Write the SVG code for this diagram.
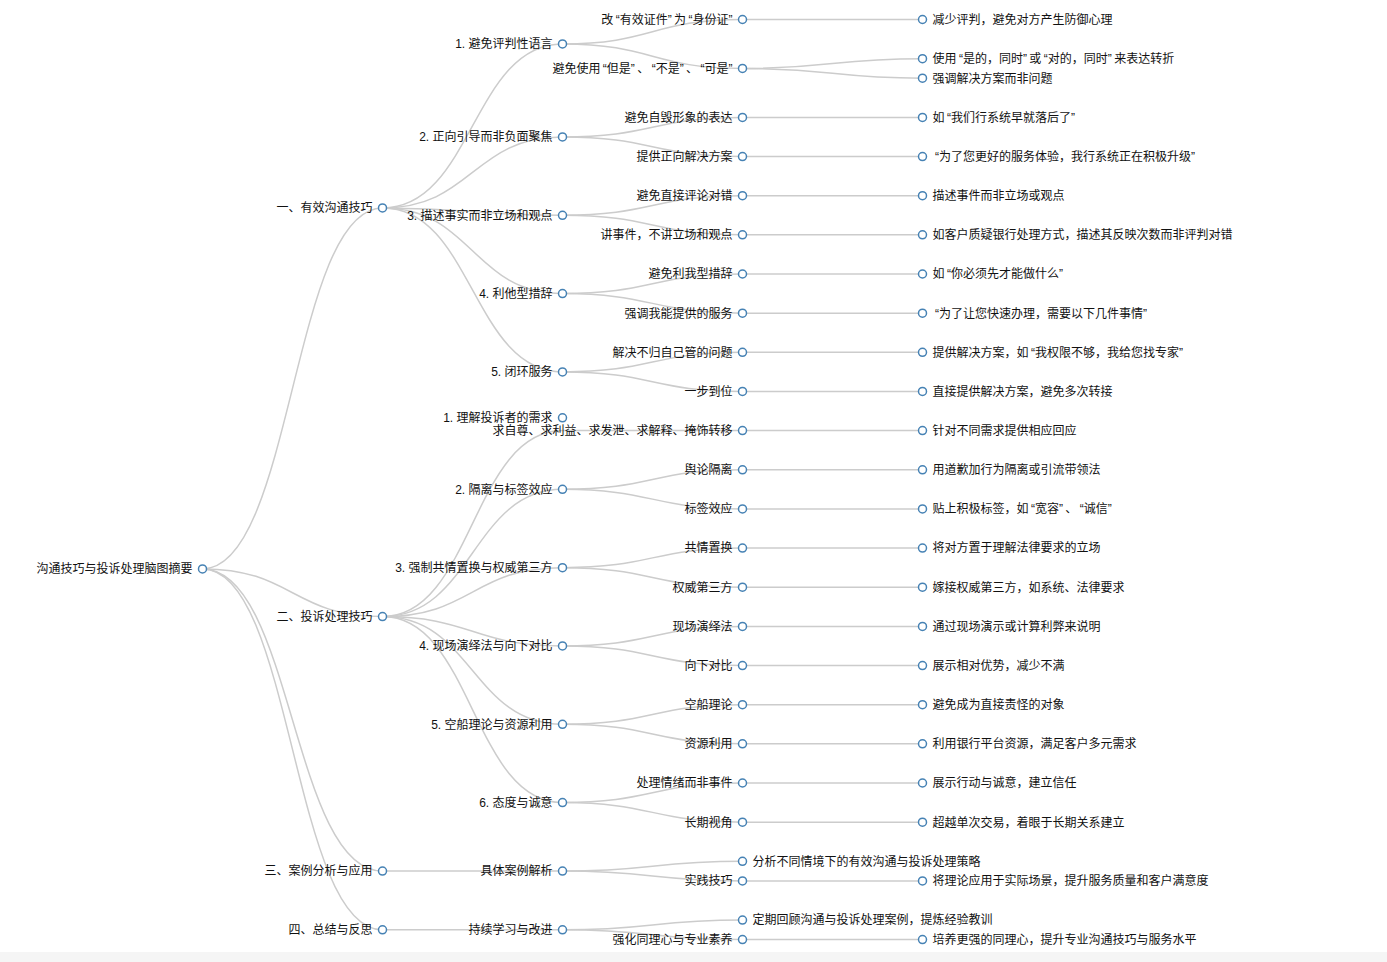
<svg xmlns="http://www.w3.org/2000/svg" width="1387" height="962" viewBox="0 0 1387 962">
<style>
.lk{fill:none;stroke:#ccc;stroke-width:1.5}
.nd circle{fill:#fff;stroke:#4682b4;stroke-width:1.5}
.nd text{font-family:"Liberation Sans","Noto Sans CJK SC",sans-serif;font-size:12px;fill:#111}
.l{text-anchor:end}
.r{text-anchor:start}
</style>
<rect x="0" y="0" width="1387" height="962" fill="#fff"/>
<rect x="0" y="952" width="1387" height="10" fill="#f5f5f5"/>
<g id="links">
<path class="lk" d="M202.5,568.88C292.5,568.88 292.5,207.93 382.5,207.93"/>
<path class="lk" d="M202.5,568.88C292.5,568.88 292.5,616.6 382.5,616.6"/>
<path class="lk" d="M202.5,568.88C292.5,568.88 292.5,871.1 382.5,871.1"/>
<path class="lk" d="M202.5,568.88C292.5,568.88 292.5,929.83 382.5,929.83"/>
<path class="lk" d="M382.5,207.93C472.5,207.93 472.5,43.97 562.5,43.97"/>
<path class="lk" d="M382.5,207.93C472.5,207.93 472.5,136.97 562.5,136.97"/>
<path class="lk" d="M382.5,207.93C472.5,207.93 472.5,215.27 562.5,215.27"/>
<path class="lk" d="M382.5,207.93C472.5,207.93 472.5,293.58 562.5,293.58"/>
<path class="lk" d="M382.5,207.93C472.5,207.93 472.5,371.89 562.5,371.89"/>
<path class="lk" d="M382.5,616.6C472.5,616.6 472.5,430.62 562.5,430.62"/>
<path class="lk" d="M382.5,616.6C472.5,616.6 472.5,489.35 562.5,489.35"/>
<path class="lk" d="M382.5,616.6C472.5,616.6 472.5,567.66 562.5,567.66"/>
<path class="lk" d="M382.5,616.6C472.5,616.6 472.5,645.97 562.5,645.97"/>
<path class="lk" d="M382.5,616.6C472.5,616.6 472.5,724.28 562.5,724.28"/>
<path class="lk" d="M382.5,616.6C472.5,616.6 472.5,802.58 562.5,802.58"/>
<path class="lk" d="M382.5,871.1C472.5,871.1 472.5,871.1 562.5,871.1"/>
<path class="lk" d="M382.5,929.83C472.5,929.83 472.5,929.83 562.5,929.83"/>
<path class="lk" d="M562.5,43.97C652.5,43.97 652.5,19.5 742.5,19.5"/>
<path class="lk" d="M562.5,43.97C652.5,43.97 652.5,68.44 742.5,68.44"/>
<path class="lk" d="M562.5,136.97C652.5,136.97 652.5,117.39 742.5,117.39"/>
<path class="lk" d="M562.5,136.97C652.5,136.97 652.5,156.54 742.5,156.54"/>
<path class="lk" d="M562.5,215.27C652.5,215.27 652.5,195.69 742.5,195.69"/>
<path class="lk" d="M562.5,215.27C652.5,215.27 652.5,234.85 742.5,234.85"/>
<path class="lk" d="M562.5,293.58C652.5,293.58 652.5,274 742.5,274"/>
<path class="lk" d="M562.5,293.58C652.5,293.58 652.5,313.16 742.5,313.16"/>
<path class="lk" d="M562.5,371.89C652.5,371.89 652.5,352.31 742.5,352.31"/>
<path class="lk" d="M562.5,371.89C652.5,371.89 652.5,391.46 742.5,391.46"/>
<path class="lk" d="M562.5,430.62C652.5,430.62 652.5,430.62 742.5,430.62"/>
<path class="lk" d="M562.5,489.35C652.5,489.35 652.5,469.77 742.5,469.77"/>
<path class="lk" d="M562.5,489.35C652.5,489.35 652.5,508.93 742.5,508.93"/>
<path class="lk" d="M562.5,567.66C652.5,567.66 652.5,548.08 742.5,548.08"/>
<path class="lk" d="M562.5,567.66C652.5,567.66 652.5,587.23 742.5,587.23"/>
<path class="lk" d="M562.5,645.97C652.5,645.97 652.5,626.39 742.5,626.39"/>
<path class="lk" d="M562.5,645.97C652.5,645.97 652.5,665.54 742.5,665.54"/>
<path class="lk" d="M562.5,724.28C652.5,724.28 652.5,704.7 742.5,704.7"/>
<path class="lk" d="M562.5,724.28C652.5,724.28 652.5,743.85 742.5,743.85"/>
<path class="lk" d="M562.5,802.58C652.5,802.58 652.5,783 742.5,783"/>
<path class="lk" d="M562.5,802.58C652.5,802.58 652.5,822.16 742.5,822.16"/>
<path class="lk" d="M562.5,871.1C652.5,871.1 652.5,861.31 742.5,861.31"/>
<path class="lk" d="M562.5,871.1C652.5,871.1 652.5,880.89 742.5,880.89"/>
<path class="lk" d="M562.5,929.83C652.5,929.83 652.5,920.04 742.5,920.04"/>
<path class="lk" d="M562.5,929.83C652.5,929.83 652.5,939.62 742.5,939.62"/>
<path class="lk" d="M742.5,19.5H922.5"/>
<path class="lk" d="M742.5,68.44C832.5,68.44 832.5,58.65 922.5,58.65"/>
<path class="lk" d="M742.5,68.44C832.5,68.44 832.5,78.23 922.5,78.23"/>
<path class="lk" d="M742.5,117.39H922.5"/>
<path class="lk" d="M742.5,156.54H922.5"/>
<path class="lk" d="M742.5,195.69H922.5"/>
<path class="lk" d="M742.5,234.85H922.5"/>
<path class="lk" d="M742.5,274H922.5"/>
<path class="lk" d="M742.5,313.16H922.5"/>
<path class="lk" d="M742.5,352.31H922.5"/>
<path class="lk" d="M742.5,391.46H922.5"/>
<path class="lk" d="M742.5,430.62H922.5"/>
<path class="lk" d="M742.5,469.77H922.5"/>
<path class="lk" d="M742.5,508.93H922.5"/>
<path class="lk" d="M742.5,548.08H922.5"/>
<path class="lk" d="M742.5,587.23H922.5"/>
<path class="lk" d="M742.5,626.39H922.5"/>
<path class="lk" d="M742.5,665.54H922.5"/>
<path class="lk" d="M742.5,704.7H922.5"/>
<path class="lk" d="M742.5,743.85H922.5"/>
<path class="lk" d="M742.5,783H922.5"/>
<path class="lk" d="M742.5,822.16H922.5"/>
<path class="lk" d="M742.5,880.89H922.5"/>
<path class="lk" d="M742.5,939.62H922.5"/>
</g>
<g id="n-root" class="nd"><circle cx="202.5" cy="568.88" r="4"/><text class="l" x="192.5" y="573.2">沟通技巧与投诉处理脑图摘要</text></g>
<g id="n-1" class="nd"><circle cx="382.5" cy="207.93" r="4"/><text class="l" x="372.5" y="212.2">一、有效沟通技巧</text></g>
<g id="n-2" class="nd"><circle cx="382.5" cy="616.6" r="4"/><text class="l" x="372.5" y="620.9">二、投诉处理技巧</text></g>
<g id="n-3" class="nd"><circle cx="382.5" cy="871.1" r="4"/><text class="l" x="372.5" y="875.4">三、案例分析与应用</text></g>
<g id="n-4" class="nd"><circle cx="382.5" cy="929.83" r="4"/><text class="l" x="372.5" y="934.1">四、总结与反思</text></g>
<g id="n-1-1" class="nd"><circle cx="562.5" cy="43.97" r="4"/><text class="l" x="552.5" y="48.3">1. 避免评判性语言</text></g>
<g id="n-1-2" class="nd"><circle cx="562.5" cy="136.97" r="4"/><text class="l" x="552.5" y="141.3">2. 正向引导而非负面聚焦</text></g>
<g id="n-1-3" class="nd"><circle cx="562.5" cy="215.27" r="4"/><text class="l" x="552.5" y="219.6">3. 描述事实而非立场和观点</text></g>
<g id="n-1-4" class="nd"><circle cx="562.5" cy="293.58" r="4"/><text class="l" x="552.5" y="297.9">4. 利他型措辞</text></g>
<g id="n-1-5" class="nd"><circle cx="562.5" cy="371.89" r="4"/><text class="l" x="552.5" y="376.2">5. 闭环服务</text></g>
<g id="n-2-1" class="nd"><circle cx="562.5" cy="417.8" r="4"/><text class="l" x="552.5" y="422.1">1. 理解投诉者的需求</text></g>
<g id="n-2-2" class="nd"><circle cx="562.5" cy="489.35" r="4"/><text class="l" x="552.5" y="493.7">2. 隔离与标签效应</text></g>
<g id="n-2-3" class="nd"><circle cx="562.5" cy="567.66" r="4"/><text class="l" x="552.5" y="572">3. 强制共情置换与权威第三方</text></g>
<g id="n-2-4" class="nd"><circle cx="562.5" cy="645.97" r="4"/><text class="l" x="552.5" y="650.3">4. 现场演绎法与向下对比</text></g>
<g id="n-2-5" class="nd"><circle cx="562.5" cy="724.28" r="4"/><text class="l" x="552.5" y="728.6">5. 空船理论与资源利用</text></g>
<g id="n-2-6" class="nd"><circle cx="562.5" cy="802.58" r="4"/><text class="l" x="552.5" y="806.9">6. 态度与诚意</text></g>
<g id="n-3-1" class="nd"><circle cx="562.5" cy="871.1" r="4"/><text class="l" x="552.5" y="875.4">具体案例解析</text></g>
<g id="n-4-1" class="nd"><circle cx="562.5" cy="929.83" r="4"/><text class="l" x="552.5" y="934.1">持续学习与改进</text></g>
<g id="n-1-1-1" class="nd"><circle cx="742.5" cy="19.5" r="4"/><text class="l" x="732.5" y="23.8">改<tspan dx="2.4">“</tspan>有效证件”<tspan dx="2.4">为</tspan><tspan dx="2.4">“</tspan>身份证”</text></g>
<g id="n-1-1-2" class="nd"><circle cx="742.5" cy="68.44" r="4"/><text class="l" x="732.5" y="72.7">避免使用<tspan dx="2.4">“</tspan>但是”<tspan dx="2.4">、</tspan><tspan dx="2.4">“</tspan>不是”<tspan dx="2.4">、</tspan><tspan dx="2.4">“</tspan>可是”</text></g>
<g id="n-1-2-1" class="nd"><circle cx="742.5" cy="117.39" r="4"/><text class="l" x="732.5" y="121.7">避免自毁形象的表达</text></g>
<g id="n-1-2-2" class="nd"><circle cx="742.5" cy="156.54" r="4"/><text class="l" x="732.5" y="160.8">提供正向解决方案</text></g>
<g id="n-1-3-1" class="nd"><circle cx="742.5" cy="195.69" r="4"/><text class="l" x="732.5" y="200">避免直接评论对错</text></g>
<g id="n-1-3-2" class="nd"><circle cx="742.5" cy="234.85" r="4"/><text class="l" x="732.5" y="239.1">讲事件，不讲立场和观点</text></g>
<g id="n-1-4-1" class="nd"><circle cx="742.5" cy="274" r="4"/><text class="l" x="732.5" y="278.3">避免利我型措辞</text></g>
<g id="n-1-4-2" class="nd"><circle cx="742.5" cy="313.16" r="4"/><text class="l" x="732.5" y="317.5">强调我能提供的服务</text></g>
<g id="n-1-5-1" class="nd"><circle cx="742.5" cy="352.31" r="4"/><text class="l" x="732.5" y="356.6">解决不归自己管的问题</text></g>
<g id="n-1-5-2" class="nd"><circle cx="742.5" cy="391.46" r="4"/><text class="l" x="732.5" y="395.8">一步到位</text></g>
<g id="n-2-1-1" class="nd"><circle cx="742.5" cy="430.62" r="4"/><text class="l" x="732.5" y="434.9">求自尊、求利益、求发泄、求解释、掩饰转移</text></g>
<g id="n-2-2-1" class="nd"><circle cx="742.5" cy="469.77" r="4"/><text class="l" x="732.5" y="474.1">舆论隔离</text></g>
<g id="n-2-2-2" class="nd"><circle cx="742.5" cy="508.93" r="4"/><text class="l" x="732.5" y="513.2">标签效应</text></g>
<g id="n-2-3-1" class="nd"><circle cx="742.5" cy="548.08" r="4"/><text class="l" x="732.5" y="552.4">共情置换</text></g>
<g id="n-2-3-2" class="nd"><circle cx="742.5" cy="587.23" r="4"/><text class="l" x="732.5" y="591.5">权威第三方</text></g>
<g id="n-2-4-1" class="nd"><circle cx="742.5" cy="626.39" r="4"/><text class="l" x="732.5" y="630.7">现场演绎法</text></g>
<g id="n-2-4-2" class="nd"><circle cx="742.5" cy="665.54" r="4"/><text class="l" x="732.5" y="669.8">向下对比</text></g>
<g id="n-2-5-1" class="nd"><circle cx="742.5" cy="704.7" r="4"/><text class="l" x="732.5" y="709">空船理论</text></g>
<g id="n-2-5-2" class="nd"><circle cx="742.5" cy="743.85" r="4"/><text class="l" x="732.5" y="748.2">资源利用</text></g>
<g id="n-2-6-1" class="nd"><circle cx="742.5" cy="783" r="4"/><text class="l" x="732.5" y="787.3">处理情绪而非事件</text></g>
<g id="n-2-6-2" class="nd"><circle cx="742.5" cy="822.16" r="4"/><text class="l" x="732.5" y="826.5">长期视角</text></g>
<g id="n-3-1-1" class="nd"><circle cx="742.5" cy="861.31" r="4"/><text class="r" x="752.5" y="865.6">分析不同情境下的有效沟通与投诉处理策略</text></g>
<g id="n-3-1-2" class="nd"><circle cx="742.5" cy="880.89" r="4"/><text class="l" x="732.5" y="885.2">实践技巧</text></g>
<g id="n-4-1-1" class="nd"><circle cx="742.5" cy="920.04" r="4"/><text class="r" x="752.5" y="924.3">定期回顾沟通与投诉处理案例，提炼经验教训</text></g>
<g id="n-4-1-2" class="nd"><circle cx="742.5" cy="939.62" r="4"/><text class="l" x="732.5" y="943.9">强化同理心与专业素养</text></g>
<g id="n-l-1" class="nd"><circle cx="922.5" cy="19.5" r="4"/><text class="r" x="932.5" y="23.8">减少评判，避免对方产生防御心理</text></g>
<g id="n-l-2" class="nd"><circle cx="922.5" cy="58.65" r="4"/><text class="r" x="932.5" y="63">使用<tspan dx="2.4">“</tspan>是的，同时”<tspan dx="2.4">或</tspan><tspan dx="2.4">“</tspan>对的，同时”<tspan dx="2.4">来</tspan>表达转折</text></g>
<g id="n-l-3" class="nd"><circle cx="922.5" cy="78.23" r="4"/><text class="r" x="932.5" y="82.5">强调解决方案而非问题</text></g>
<g id="n-l-4" class="nd"><circle cx="922.5" cy="117.39" r="4"/><text class="r" x="932.5" y="121.7">如<tspan dx="2.4">“</tspan>我们行系统早就落后了”</text></g>
<g id="n-l-5" class="nd"><circle cx="922.5" cy="156.54" r="4"/><text class="r" x="932.5" y="160.8"><tspan dx="2.4">“</tspan>为了您更好的服务体验，我行系统正在积极升级”</text></g>
<g id="n-l-6" class="nd"><circle cx="922.5" cy="195.69" r="4"/><text class="r" x="932.5" y="200">描述事件而非立场或观点</text></g>
<g id="n-l-7" class="nd"><circle cx="922.5" cy="234.85" r="4"/><text class="r" x="932.5" y="239.1">如客户质疑银行处理方式，描述其反映次数而非评判对错</text></g>
<g id="n-l-8" class="nd"><circle cx="922.5" cy="274" r="4"/><text class="r" x="932.5" y="278.3">如<tspan dx="2.4">“</tspan>你必须先才能做什么”</text></g>
<g id="n-l-9" class="nd"><circle cx="922.5" cy="313.16" r="4"/><text class="r" x="932.5" y="317.5"><tspan dx="2.4">“</tspan>为了让您快速办理，需要以下几件事情”</text></g>
<g id="n-l-10" class="nd"><circle cx="922.5" cy="352.31" r="4"/><text class="r" x="932.5" y="356.6">提供解决方案，如<tspan dx="2.4">“</tspan>我权限不够，我给您找专家”</text></g>
<g id="n-l-11" class="nd"><circle cx="922.5" cy="391.46" r="4"/><text class="r" x="932.5" y="395.8">直接提供解决方案，避免多次转接</text></g>
<g id="n-l-12" class="nd"><circle cx="922.5" cy="430.62" r="4"/><text class="r" x="932.5" y="434.9">针对不同需求提供相应回应</text></g>
<g id="n-l-13" class="nd"><circle cx="922.5" cy="469.77" r="4"/><text class="r" x="932.5" y="474.1">用道歉加行为隔离或引流带领法</text></g>
<g id="n-l-14" class="nd"><circle cx="922.5" cy="508.93" r="4"/><text class="r" x="932.5" y="513.2">贴上积极标签，如<tspan dx="2.4">“</tspan>宽容”<tspan dx="2.4">、</tspan><tspan dx="2.4">“</tspan>诚信”</text></g>
<g id="n-l-15" class="nd"><circle cx="922.5" cy="548.08" r="4"/><text class="r" x="932.5" y="552.4">将对方置于理解法律要求的立场</text></g>
<g id="n-l-16" class="nd"><circle cx="922.5" cy="587.23" r="4"/><text class="r" x="932.5" y="591.5">嫁接权威第三方，如系统、法律要求</text></g>
<g id="n-l-17" class="nd"><circle cx="922.5" cy="626.39" r="4"/><text class="r" x="932.5" y="630.7">通过现场演示或计算利弊来说明</text></g>
<g id="n-l-18" class="nd"><circle cx="922.5" cy="665.54" r="4"/><text class="r" x="932.5" y="669.8">展示相对优势，减少不满</text></g>
<g id="n-l-19" class="nd"><circle cx="922.5" cy="704.7" r="4"/><text class="r" x="932.5" y="709">避免成为直接责怪的对象</text></g>
<g id="n-l-20" class="nd"><circle cx="922.5" cy="743.85" r="4"/><text class="r" x="932.5" y="748.2">利用银行平台资源，满足客户多元需求</text></g>
<g id="n-l-21" class="nd"><circle cx="922.5" cy="783" r="4"/><text class="r" x="932.5" y="787.3">展示行动与诚意，建立信任</text></g>
<g id="n-l-22" class="nd"><circle cx="922.5" cy="822.16" r="4"/><text class="r" x="932.5" y="826.5">超越单次交易，着眼于长期关系建立</text></g>
<g id="n-l-23" class="nd"><circle cx="922.5" cy="880.89" r="4"/><text class="r" x="932.5" y="885.2">将理论应用于实际场景，提升服务质量和客户满意度</text></g>
<g id="n-l-24" class="nd"><circle cx="922.5" cy="939.62" r="4"/><text class="r" x="932.5" y="943.9">培养更强的同理心，提升专业沟通技巧与服务水平</text></g>
</svg>
